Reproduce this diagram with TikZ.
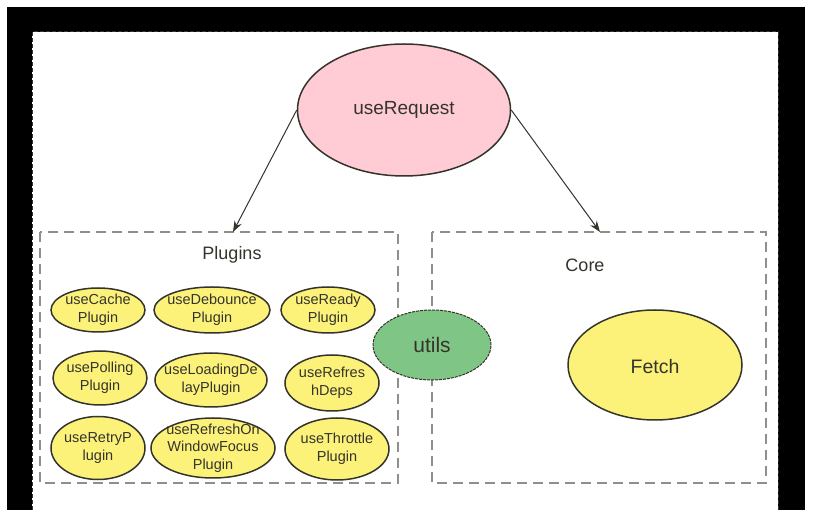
\documentclass[tikz,border=0pt]{standalone}
\usepackage{fontspec}
\setmainfont{Liberation Sans}
\usetikzlibrary{shapes.geometric,arrows.meta}

\definecolor{reqpink}{HTML}{FFCCD6}
\definecolor{plugyellow}{HTML}{FCF27A}
\definecolor{utilgreen}{HTML}{7FC585}
\definecolor{boxgray}{HTML}{8E8E8A}
\definecolor{inkdark}{HTML}{34342C}

\tikzset{
  plugtext/.style={align=center, text=inkdark, inner sep=0pt,
    font=\fontsize{14.5}{17.5}\selectfont},
  oval/.style={ellipse, draw=inkdark, line width=1.5pt, inner sep=0pt},
  plugin/.style={oval, fill=plugyellow, label={[plugtext]center:{#1}}},
  groupbox/.style={draw=boxgray, line width=1.8pt, dash pattern=on 10pt off 6pt},
  grouptitle/.style={text=inkdark, font=\fontsize{18}{20}\selectfont},
  callarrow/.style={draw=inkdark, line width=1pt, -{Stealth[length=11pt,width=8pt]}}
}

\begin{document}
\begin{tikzpicture}[x=1pt, y=-1pt]
	% Frame of the screenshot
	\fill[white] (0,0) rectangle (815,510);
	\useasboundingbox (0,0) rectangle (815,510);
	\fill[black] (7,7) rectangle (805,510);
	\fill[white] (32,32) rectangle (778,510);
	\draw[inkdark, line width=1pt, dash pattern=on 4pt off 2pt] (32,510) -- (32,32) -- (778,32) -- (778,510);

	% The two groups
	\draw[groupbox] (40,232) rectangle (398,483);
	\draw[groupbox] (432,232) rectangle (766,483);
	\node[grouptitle] (ptitle) at (232,255) {Plugins};
	\node[grouptitle] (ctitle) at (585,265) {Core};
	\coordinate (ptop) at (233,232);
	\coordinate (ctop) at (600,232);

	% Entry hook
	\node[oval, fill=reqpink, minimum width=213pt, minimum height=132pt,
	  text=inkdark, font=\fontsize{19}{21}\selectfont] (req) at (404,110) {};
	\node[text=inkdark, font=\fontsize{19}{21}\selectfont] (reqtext) at (req) {useRequest};
	\draw[callarrow] (req.west) -- (ptop);
	\draw[callarrow] (req.east) -- (ctop);

	% Plugins, row by row
	\node[plugin={useCache\\Plugin}, minimum width=94pt, minimum height=44pt] (cache) at (98,310) {};
	\node[plugin={useDebounce\\Plugin}, minimum width=116pt, minimum height=46pt] (debounce) at (212,310) {};
	\node[plugin={useReady\\Plugin}, minimum width=94pt, minimum height=46pt] (ready) at (328,310) {};

	\node[plugin={usePolling\\Plugin}, minimum width=94pt, minimum height=54pt] (polling) at (100,378) {};
	\node[plugin={useLoadingDe\\layPlugin}, minimum width=112pt, minimum height=54pt] (loading) at (211,380) {};
	\node[plugin={useRefres\\hDeps}, minimum width=94pt, minimum height=56pt] (refdeps) at (332,383) {};

	\node[plugin={useRetryP\\lugin}, minimum width=94pt, minimum height=63pt] (retry) at (98,448) {};
	\node[plugin={useRefreshOn\\WindowFocus\\Plugin}, minimum width=124pt, minimum height=60pt] (focus) at (213,448) {};
	\node[plugin={useThrottle\\Plugin}, minimum width=104pt, minimum height=62pt] (throttle) at (337,449) {};

	% Core
	\node[oval, fill=plugyellow, minimum width=174pt, minimum height=110pt] (fetch) at (655,365) {};
	\node[text=inkdark, font=\fontsize{19.5}{22}\selectfont] (fetchtext) at (655,367) {Fetch};

	% Shared helpers, on top of both groups
	\node[oval, fill=utilgreen, line width=1pt, dash pattern=on 3pt off 1pt,
	  minimum width=118pt, minimum height=70pt] (utils) at (432,345) {};
	\node[text=inkdark, font=\fontsize{21}{23}\selectfont] (utilstext) at (utils) {utils};
\end{tikzpicture}
\end{document}
